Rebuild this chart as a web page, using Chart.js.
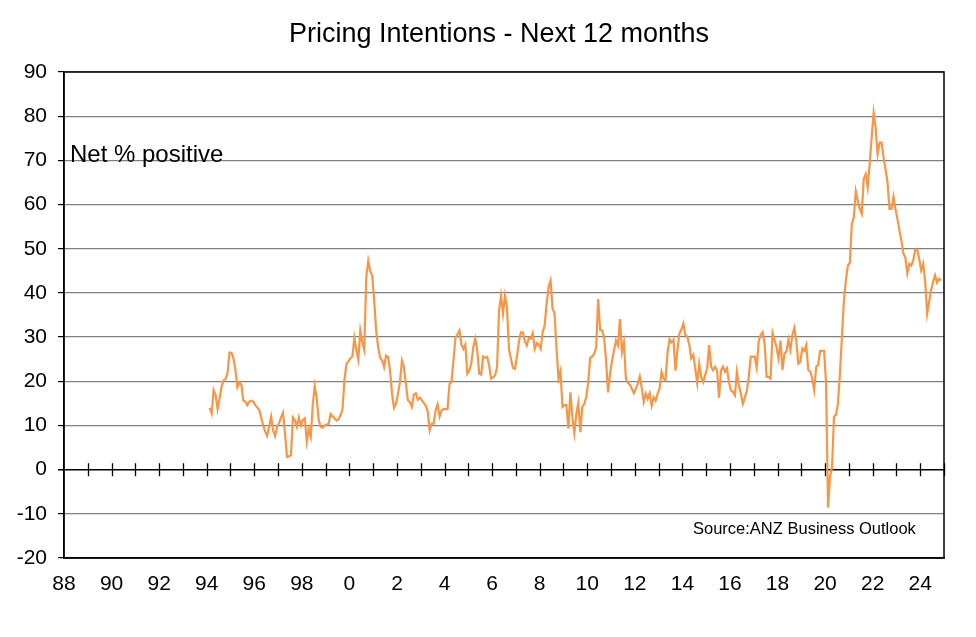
<!DOCTYPE html>
<html>
<head>
<meta charset="utf-8">
<script src="https://cdn.jsdelivr.net/npm/chart.js@4/dist/chart.umd.min.js"></script>
<style>
  html, body { margin: 0; padding: 0; background: #fff; }
  #wrap { width: 976px; height: 637px; position: relative; }
</style>
</head>
<body>
<div id="wrap"><canvas id="c"></canvas></div>
<script>
// ---- Data: monthly net % of firms intending to raise prices ----
const startYear = 1994;
const startMonth = 2; // February 1994

const values1994to1999 = [14, 12.7, 18, 16.9, 13.7, 16.1, 18.8, 20.2, 20.5, 21.8,
  26.5, 26.4, 25.2, 22.6, 18.6, 19.7, 19.2, 15.6, 15.4, 14.6,
  15.4, 15.6, 15.4, 14.6, 14.1, 13.5, 11.8, 10, 8.6, 7.6,
  9.7, 12, 8.9, 7.6, 9.7, 10.5, 11.8, 12.9, 8.2, 2.9,
  3, 3.3, 11.8, 11.2, 9.7, 11.8, 10, 11.2, 11.6, 6.3,
  9.1, 7.4, 14.6, 18.9, 16.1, 11.2, 9.7, 9.5, 10, 10.2,
  10.3, 12.6, 12.1, 11.6, 11.1, 11.4, 12.3, 13.6, 20.3, 23.9,
  24.5, 25.2];
const values2000to2006 = [25.6, 29.8, 27, 24.9, 31.5, 28.8, 27.1, 43.5, 47.3, 45,
  43.9, 38.3, 31.5, 27.7, 25.3, 24.7, 23.2, 25.8, 25.5, 22.4,
  17.2, 14, 14.9, 17.2, 19.8, 24.7, 23.2, 19.4, 15.7, 15.3,
  14.2, 17, 17.3, 15.8, 16.3, 15.7, 15.1, 14.5, 13.2, 8.9,
  10.4, 10.4, 13.4, 14.8, 12, 13.4, 13.7, 13.7, 13.7, 19.4,
  19.8, 24.7, 29.8, 30.6, 31.5, 28.3, 27.3, 28.3, 21.7, 22.4,
  24, 27.7, 29.6, 27, 21.7, 21.5, 25.6, 25.3, 25.5, 23.6,
  20.6, 20.9, 21.3, 23.2, 36, 39.4];
const values2006to2012 = [35.3, 39.4, 36.8, 27.3, 25.1, 23, 22.8, 25.5, 28.8, 31.1,
  31.1, 29.1, 28.1, 29.8, 29.6, 30.9, 27.3, 28.6, 28.3, 27.3,
  31.1, 32.6, 37.5, 41.4, 42.8, 36.4, 35.4, 27.3, 20.6, 22.3,
  14.2, 14.6, 14.6, 9.3, 17.5, 11.9, 8.3, 12.6, 15.1, 8.5,
  14.2, 14.9, 16.4, 19.8, 25.3, 25.6, 26.2, 27.6, 38.6, 31.6,
  31.5, 30, 24.7, 17.5, 21.7, 24.6, 27, 29.2, 28.1, 34.1,
  26.6, 28.8, 20.6, 19.6, 19.3, 18.3, 17.3, 18.3, 19.4, 21.1,
  18.5, 15.3, 17.2, 16, 17.3];
const values2012to2018 = [14.5, 16.4, 15.6, 17.2, 18.3, 22.1, 20.6, 20.2, 26.3, 29.5,
  28.8, 29.4, 22.4, 27.1, 30.8, 31.7, 33.1, 30.5, 30, 28.2,
  25.2, 26, 22.9, 19.5, 24, 21, 19.8, 21.4, 22.9, 28.2,
  23.3, 22.5, 23.3, 22.5, 16.3, 22.5, 23.3, 22.1, 22.9, 19.8,
  17.9, 17.6, 16.8, 22.1, 19.1, 17.2, 14.9, 16.3, 17.8, 21,
  25.6, 25.6, 25.6, 23.1, 29, 30.5, 31.1, 28.6, 21, 21,
  20.6, 30.9, 29.4, 27.7, 25.2, 29.2, 22.5, 26.3, 26.7, 29.4,
  27.1, 30.5, 32.1, 29, 24, 24.4];
const values2019to2024 = [27.4, 26.9, 28.2, 22.6, 22.2, 20.7, 18, 23.3, 23.7, 26.9,
  26.9, 26.9, 19.5, -8.6, -1.5, 0.4, 12, 12.4, 15, 21.8,
  30.1, 38.3, 42.9, 46.2, 46.8, 55.6, 57.1, 63, 60.9, 59,
  57.9, 65.8, 66.9, 63.9, 69.2, 75.2, 80.8, 77.4, 71.4, 74,
  74, 70.7, 68, 65, 59, 59, 61.8, 59, 56.8, 54.1,
  51.9, 48.9, 48, 44.4, 46.6, 46.2, 47.4, 49.8, 49.8, 47.7,
  45.1, 46.6, 42.5, 35.3, 38, 40.6, 42.5, 44, 42.3, 43.2, 42.8];

const pricingIntentions = [].concat(values1994to1999, values2000to2006, values2006to2012, values2012to2018, values2019to2024);

// Axis definitions
const xMinYear = 1988, xMaxYear = 2025;
const yTicks = [-20, -10, 0, 10, 20, 30, 40, 50, 60, 70, 80, 90];
const titleText = 'Pricing Intentions - Next 12 months';
const unitText = 'Net % positive';
const sourceText = 'Source:ANZ Business Outlook';

const points = pricingIntentions.map((v, i) => ({ x: startYear + (startMonth - 1 + i + 0.5) / 12, y: v }));

const FONT = '"Liberation Sans", Arial, sans-serif';

const decor = {
  id: 'decor',
  beforeDatasetsDraw(chart) {
    const { ctx, chartArea: a, scales: { x, y } } = chart;
    const y0 = y.getPixelForValue(0);
    ctx.save();
    ctx.strokeStyle = '#000';
    ctx.lineWidth = 1.3;
    ctx.beginPath();
    for (let yr = xMinYear + 1; yr <= xMaxYear; yr++) {
      const px = Math.round(x.getPixelForValue(yr)) + 0.5;
      ctx.moveTo(px, y0 - 6.5);
      ctx.lineTo(px, y0 + 6.5);
    }
    ctx.stroke();
    ctx.lineWidth = 1.5;
    ctx.strokeRect(a.left, a.top, a.right - a.left, a.bottom - a.top);
    ctx.restore();
  },
  afterDraw(chart) {
    const { ctx } = chart;
    ctx.save();
    ctx.fillStyle = '#000';
    ctx.textBaseline = 'middle';
    ctx.textAlign = 'center';
    ctx.font = '27px ' + FONT;
    ctx.fillText(titleText, 499, 35);
    ctx.textAlign = 'left';
    ctx.font = '24px ' + FONT;
    ctx.fillText(unitText, 70, 155);
    ctx.font = '16.5px ' + FONT;
    ctx.fillText(sourceText, 693, 529);
    ctx.restore();
  }
};

new Chart(document.getElementById('c'), {
  type: 'line',
  data: {
    datasets: [{
      data: points,
      borderColor: '#F79646',
      borderWidth: 2.2,
      pointRadius: 0,
      tension: 0,
      fill: false
    }]
  },
  options: {
    responsive: true,
    maintainAspectRatio: false,
    animation: false,
    devicePixelRatio: 1,
    layout: { padding: { top: 72, right: 32, bottom: 0, left: 0 } },
    plugins: { legend: { display: false }, tooltip: { enabled: false }, title: { display: false } },
    scales: {
      x: {
        type: 'linear',
        min: xMinYear,
        max: xMaxYear,
        afterFit(s) { s.height = 79; },
        afterBuildTicks(s) {
          s.ticks = [];
          for (let yr = xMinYear; yr <= xMaxYear; yr++) s.ticks.push({ value: yr });
        },
        grid: { display: false },
        border: { display: true, color: '#000', width: 1.5 },
        ticks: {
          autoSkip: false,
          maxRotation: 0,
          padding: 6,
          color: '#000',
          font: { family: FONT, size: 21 },
          callback: (v) => (v % 2 === 0 && v < xMaxYear) ? String(v % 100) : ''
        }
      },
      y: {
        min: -20,
        max: 90,
        afterFit(s) { s.width = 64; },
        afterBuildTicks(s) { s.ticks = yTicks.map(v => ({ value: v })); },
        grid: {
          color: (c) => c.tick && c.tick.value === 0 ? '#000' : '#808080',
          lineWidth: (c) => c.tick && c.tick.value === 0 ? 1.5 : 1.2,
          tickLength: 6,
          tickColor: '#000'
        },
        border: { display: true, color: '#000', width: 1.5 },
        ticks: {
          padding: 11,
          color: '#000',
          font: { family: FONT, size: 21 }
        }
      }
    }
  },
  plugins: [decor]
});
</script>
</body>
</html>
